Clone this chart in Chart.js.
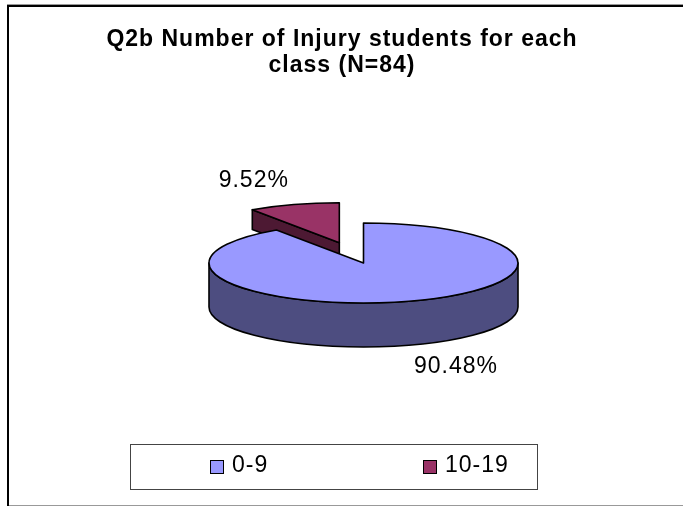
<!DOCTYPE html>
<html><head><meta charset="utf-8">
<script src="https://cdn.jsdelivr.net/npm/chart.js@4/dist/chart.umd.min.js"></script>
<style>html,body{margin:0;padding:0;background:#fff;overflow:hidden}canvas{display:block}</style>
</head><body>
<canvas id="c" width="683" height="507"></canvas>
<script>
// ---- data ----
const TITLE_LINES = ["Q2b Number of Injury students for each", "class (N=84)"];
const CATEGORIES = ["0-9", "10-19"];
const COUNTS = [76, 8];
// ---- styles ----
const TOP_COLORS = ["#9999FF", "#993366"];
const SIDE_COLORS = ["#4D4D80", "#4D1933"];
const FONT = '"Liberation Sans", Arial, Helvetica, sans-serif';

function pct(i) {
  const tot = COUNTS.reduce((a, b) => a + b, 0);
  return (COUNTS[i] / tot * 100).toFixed(2) + "%";
}

function screenArcs(chart, o) {
  const meta = chart.getDatasetMeta(0);
  const cy = (chart.chartArea.top + chart.chartArea.bottom) / 2;
  const s = o.squash;
  return meta.data.map((arc, i) => {
    const rx = arc.outerRadius;
    return {arc, i, cy, X: arc.x, Y: cy + (arc.y - cy) * s, rx, ry: rx * s,
      a: arc.startAngle, b: arc.endAngle, D: o.depth * (o.depthScale[i] ?? 1)};
  });
}

const pie3d = {
  id: 'pie3d',
  beforeDraw(chart) {
    const ctx = chart.ctx;
    ctx.save();
    ctx.fillStyle = '#fff';
    ctx.fillRect(0, 0, chart.width, chart.height);
    ctx.fillStyle = '#999';
    ctx.fillRect(7, 4, chart.width, 1);
    ctx.fillRect(7, 505, chart.width, 1);
    ctx.fillStyle = '#000';
    ctx.fillRect(7, 5, chart.width, 2);
    ctx.fillRect(7, 5, 2, 501);
    ctx.restore();
  },
  afterUpdate(chart, args, o) {
    const meta = chart.getDatasetMeta(0);
    meta.data.forEach((arc, i) => {
      const d = o.explode[i] || 0;
      if (!d) return;
      const h = (arc.startAngle + arc.endAngle) / 2;
      arc.x += Math.cos(h) * d;
      arc.y += Math.sin(h) * d;
    });
  },
  beforeDatasetDraw(chart, args, o) {
    const ctx = chart.ctx;
    const s = o.squash;
    const items = screenArcs(chart, o).sort((p, q) => p.Y - q.Y);
    ctx.save();
    ctx.lineJoin = 'round';
    ctx.lineWidth = o.lineWidth;
    ctx.strokeStyle = o.lineColor;
    for (const it of items) {
      const {arc, i, cy, X, Y, rx, ry, a, b, D} = it;
      const side = o.sideColors[i];
      const P = t => [X + rx * Math.cos(t), Y + ry * Math.sin(t)];
      const faces = [];
      if (-Math.cos(a) > 1e-3) faces.push(a);
      if (Math.cos(b) > 1e-3) faces.push(b);
      for (const t of faces) {
        const [px, py] = P(t);
        ctx.beginPath();
        ctx.moveTo(X, Y); ctx.lineTo(px, py); ctx.lineTo(px, py + D); ctx.lineTo(X, Y + D);
        ctx.closePath();
        ctx.fillStyle = side; ctx.fill(); ctx.stroke();
      }
      for (let k = -2; k <= 2; k++) {
        const lo = Math.max(a, 2 * Math.PI * k), hi = Math.min(b, 2 * Math.PI * k + Math.PI);
        if (hi - lo < 1e-4) continue;
        ctx.beginPath();
        ctx.ellipse(X, Y, rx, ry, 0, lo, hi);
        const [hx, hy] = P(hi);
        ctx.lineTo(hx, hy + D);
        ctx.ellipse(X, Y + D, rx, ry, 0, hi, lo, true);
        ctx.closePath();
        ctx.fillStyle = side; ctx.fill(); ctx.stroke();
      }
      // top face drawn by the library's arc element, squashed to an ellipse
      ctx.save();
      ctx.translate(0, cy); ctx.scale(1, s); ctx.translate(0, -cy);
      arc.draw(ctx);
      ctx.restore();
      ctx.beginPath();
      ctx.moveTo(X, Y);
      ctx.ellipse(X, Y, rx, ry, 0, a, b);
      ctx.closePath();
      ctx.stroke();
    }
    ctx.restore();
    return false;
  },
  afterDraw(chart, args, o) {
    const ctx = chart.ctx;
    ctx.save();
    try { ctx.letterSpacing = '1px'; } catch (e) {}
    ctx.fillStyle = '#000';
    ctx.textBaseline = 'middle';
    // title
    ctx.font = 'bold 23px ' + FONT;
    ctx.textAlign = 'center';
    TITLE_LINES.forEach((l, k) => ctx.fillText(l, o.titleX, o.titleY + k * o.titleLH));
    // percentage labels
    ctx.font = '23px ' + FONT;
    screenArcs(chart, o).forEach(it => {
      const h = (it.a + it.b) / 2;
      const ax = it.X + it.rx * Math.cos(h), ay = it.Y + it.ry * Math.sin(h);
      const off = o.labelOffsets[it.i];
      ctx.fillText(pct(it.i), ax + off[0], ay + off[1]);
    });
    // legend
    const L = o.legend;
    ctx.lineWidth = 1;
    ctx.strokeStyle = '#444';
    ctx.strokeRect(L.x + 0.5, L.y + 0.5, L.w, L.h);
    ctx.textAlign = 'left';
    CATEGORIES.forEach((c, i) => {
      const x = L.items[i];
      ctx.fillStyle = TOP_COLORS[i];
      ctx.fillRect(x, L.boxY, 13, 13);
      ctx.strokeStyle = '#000';
      ctx.strokeRect(x + 0.5, L.boxY + 0.5, 13, 13);
      ctx.fillStyle = '#000';
      ctx.fillText(c, x + 22, L.textY);
    });
    ctx.restore();
  }
};

new Chart(document.getElementById('c'), {
  type: 'pie',
  data: {
    labels: CATEGORIES,
    datasets: [{ data: COUNTS, backgroundColor: TOP_COLORS, borderWidth: 0, radius: 154.5, hoverOffset: 0 }]
  },
  options: {
    responsive: false,
    animation: false,
    events: [],
    layout: { padding: { left: 44, right: 0, top: 20, bottom: 1 } },
    plugins: {
      legend: { display: false },
      title: { display: false },
      tooltip: { enabled: false },
      pie3d: {
        squash: 40 / 154.5,
        depth: 44,
        depthScale: [1, 0.45],
        explode: [0, 82],
        sideColors: SIDE_COLORS,
        lineWidth: 1.6,
        lineColor: '#000',
        titleX: 342, titleY: 40, titleLH: 25.7,
        labelOffsets: [[47, 65], [-40, -24]],
        legend: { x: 130, y: 444, w: 407, h: 45, items: [210, 423], boxY: 460, textY: 466 }
      }
    }
  },
  plugins: [pie3d]
});
</script>
</body></html>
